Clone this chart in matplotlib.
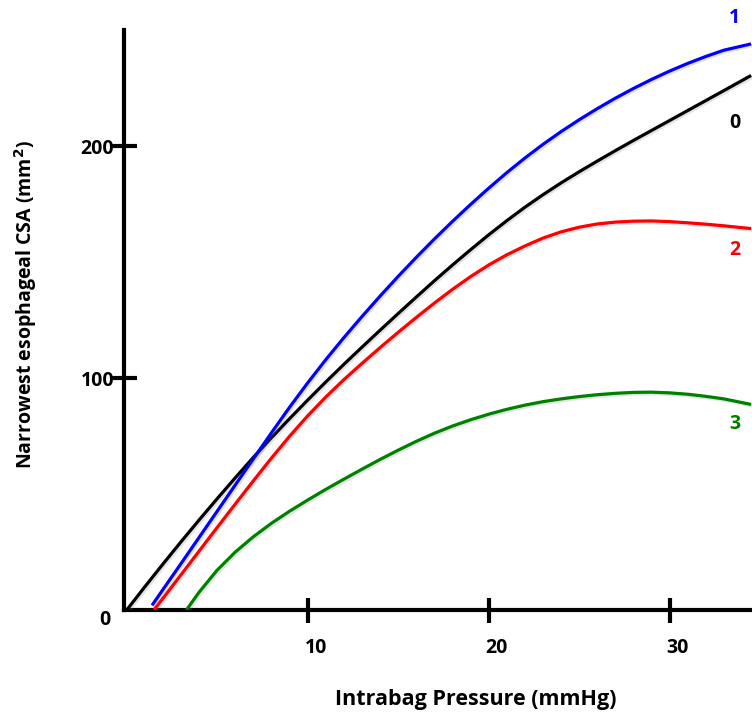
import numpy as np
import matplotlib.pyplot as plt
import matplotlib.patheffects as pe
from matplotlib.transforms import ScaledTranslation

plt.rcParams['font.family'] = ['Open Sans', 'DejaVu Sans']
plt.rcParams['font.weight'] = 'bold'

### Courbes : pression (mmHg) -> CSA la plus etroite (mm2)

p_0 = [0, 1, 2, 3, 4, 5, 6, 7, 8, 9, 10, 11, 12, 13, 14, 15, 16, 17, 18, 19,
       20, 21, 22, 23, 24, 25, 26, 27, 28, 29, 30, 31, 32, 33, 34.5]
csa_0 = [0, 10, 19.8, 29.4, 38.8, 48, 57, 65.8, 74.3, 82.5, 90.5, 98.3, 105.9,
         113.3, 120.6, 127.8, 134.9, 141.9, 148.7, 155.3, 161.7, 167.8, 173.6,
         179, 184.1, 188.9, 193.5, 198, 202.4, 206.7, 211, 215.3, 219.6, 223.9,
         230.4]

p_1 = [1.4, 2, 3, 4, 5, 6, 7, 8, 9, 10, 11, 12, 13, 14, 15, 16, 17, 18, 19,
       20, 21, 22, 23, 24, 25, 26, 27, 28, 29, 30, 31, 32, 33, 34.5]
csa_1 = [2, 8.8, 20, 31.3, 42.6, 53.9, 65.2, 76.4, 87.4, 97.9, 107.9, 117.4,
         126.5, 135.3, 143.8, 152, 159.9, 167.5, 174.8, 181.8, 188.5, 194.8,
         200.7, 206.2, 211.3, 216.1, 220.6, 224.8, 228.7, 232.3, 235.6, 238.6,
         241.3, 244]

p_2 = [1.5, 2, 3, 4, 5, 6, 7, 8, 9, 10, 11, 12, 13, 14, 15, 16, 17, 18, 19,
       20, 21, 22, 23, 24, 25, 26, 27, 28, 29, 30, 31, 32, 33, 34.5]
csa_2 = [0, 5, 15.2, 25.4, 35.6, 45.7, 55.7, 65.5, 74.9, 83.7, 91.8, 99.3,
         106.3, 113.1, 119.7, 126.1, 132.3, 138.2, 143.7, 148.7, 153.1, 156.9,
         160.3, 163, 165, 166.4, 167.2, 167.6, 167.7, 167.4, 166.9, 166.3,
         165.6, 164.4]

p_3 = [3.3, 4, 5, 6, 7, 8, 9, 10, 11, 12, 13, 14, 15, 16, 17, 18, 19, 20, 21,
       22, 23, 24, 25, 26, 27, 28, 29, 30, 31, 32, 33, 34.5]
csa_3 = [0, 7.7, 17.2, 25, 31.6, 37.4, 42.6, 47.4, 52, 56.4, 60.7, 64.9, 68.9,
         72.7, 76.2, 79.3, 82, 84.4, 86.5, 88.3, 89.8, 91, 92, 92.8, 93.4, 93.8,
         93.9, 93.6, 93, 92.1, 91, 88.6]

courbes = [(p_0, csa_0, "black", "0", 210),
           (p_1, csa_1, "#0000ff", "1", 255),
           (p_2, csa_2, "#ff0000", "2", 155),
           (p_3, csa_3, "#008000", "3", 80)]

x_ticks = [10, 20, 30]
y_ticks = [100, 200]


### Figure

fig = plt.figure(figsize=(7.52, 7.18), dpi=100)
ax = fig.add_axes([124/752, 108/718, 628/752, 580/718])

ombre = [pe.SimpleLineShadow(offset=(1.2, -1.2), alpha=0.22, shadow_color="gray"),
         pe.Normal()]

for p, csa, couleur, nom, y_nom in courbes:
    ax.plot(p, csa, color=couleur, lw=2.3, path_effects=ombre,
            solid_capstyle="butt", solid_joinstyle="round", zorder=3)
    ax.text(33.6, y_nom, nom, color=couleur, fontsize=14, fontweight="bold",
            ha="center", va="center", clip_on=False)

ax.set_xlim(-0.15, 34.55)
ax.set_ylim(0, 250)

for s in ["top", "right"]:
    ax.spines[s].set_visible(False)
for s in ["left", "bottom"]:
    ax.spines[s].set_linewidth(3)

ax.set_xticks(x_ticks)
ax.set_yticks(y_ticks)
ax.tick_params(axis="both", direction="inout", length=18, width=3, labelsize=14)
ax.tick_params(axis="x", pad=11)
ax.tick_params(axis="y", pad=-2)
for lab in ax.get_xticklabels():
    lab.set_fontweight("bold")
    lab.set_transform(lab.get_transform() + ScaledTranslation(0.08, 0, fig.dpi_scale_trans))
for lab in ax.get_yticklabels():
    lab.set_fontweight("bold")

ax.annotate("0", xy=(0, 0), xytext=(-16, -7), textcoords="offset points",
            fontsize=14, fontweight="bold", ha="center", va="center",
            annotation_clip=False)

ax.set_xlabel("Intrabag Pressure (mmHg)", fontsize=15.5, fontweight="bold")
ax.xaxis.set_label_coords(0.56, -0.137)
ax.set_ylabel("Narrowest esophageal CSA (mm$^\\mathbf{2}$)", fontsize=14,
              fontweight="bold")
ax.yaxis.set_label_coords(-0.136, 0.526)

plt.savefig("out.png", dpi=100)
